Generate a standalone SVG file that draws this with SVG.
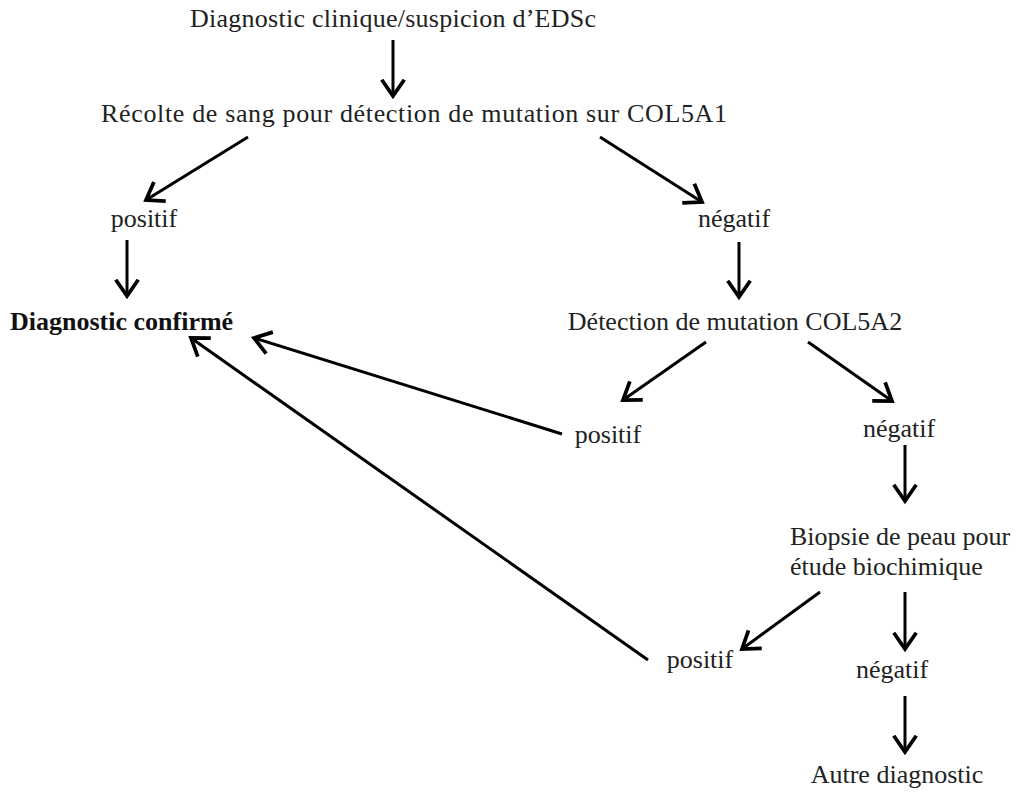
<svg xmlns="http://www.w3.org/2000/svg" width="1016" height="794" viewBox="0 0 1016 794">
<defs>
<style>
text{font-family:"Liberation Serif","Times New Roman",serif;font-size:26px;fill:#222}
.m{text-anchor:middle}
.b{font-weight:bold;fill:#111}
.c line{stroke:#000;stroke-width:3;marker-end:url(#ah)}
</style>
<marker id="ah" markerUnits="userSpaceOnUse" markerWidth="30" markerHeight="30" viewBox="-16 -12 20 24" refX="0" refY="0" orient="auto">
<path d="M-13,-9 L0,0 L-13,9" fill="none" stroke="#000" stroke-width="3"/>
</marker>
</defs>
<rect width="1016" height="794" fill="#fff"/>
<g id="n1"><text x="190" y="27" textLength="406" lengthAdjust="spacing">Diagnostic clinique/suspicion d’EDSc</text></g>
<g id="n2"><text x="101" y="122" textLength="626" lengthAdjust="spacing">Récolte de sang pour détection de mutation sur COL5A1</text></g>
<g id="n3"><text class="m" x="144" y="227">positif</text></g>
<g id="n4"><text class="m" x="734" y="227">négatif</text></g>
<g id="n5"><text class="b" x="10" y="330">Diagnostic confirmé</text></g>
<g id="n6"><text class="m" x="735" y="330">Détection de mutation COL5A2</text></g>
<g id="n7"><text class="m" x="608" y="443">positif</text></g>
<g id="n8"><text class="m" x="899" y="437">négatif</text></g>
<g id="n9"><text x="790" y="545">Biopsie de peau pour</text><text x="790" y="575">étude biochimique</text></g>
<g id="n10"><text class="m" x="700" y="668">positif</text></g>
<g id="n11"><text class="m" x="892" y="678">négatif</text></g>
<g id="n12"><text class="m" x="897" y="783">Autre diagnostic</text></g>
<g id="connectors" class="c">
<line x1="393" y1="40" x2="393" y2="96"/>
<line x1="248" y1="137" x2="146" y2="200"/>
<line x1="600" y1="137" x2="702" y2="202"/>
<line x1="127" y1="240" x2="127" y2="296"/>
<line x1="739" y1="242" x2="739" y2="297"/>
<line x1="706" y1="342" x2="623" y2="400"/>
<line x1="808" y1="342" x2="892" y2="401"/>
<line x1="562" y1="434" x2="254" y2="338"/>
<line x1="905" y1="445" x2="905" y2="501"/>
<line x1="820" y1="592" x2="742" y2="649"/>
<line x1="905" y1="592" x2="905" y2="649"/>
<line x1="648" y1="660" x2="191" y2="338"/>
<line x1="905" y1="696" x2="905" y2="752"/>
</g>
</svg>
